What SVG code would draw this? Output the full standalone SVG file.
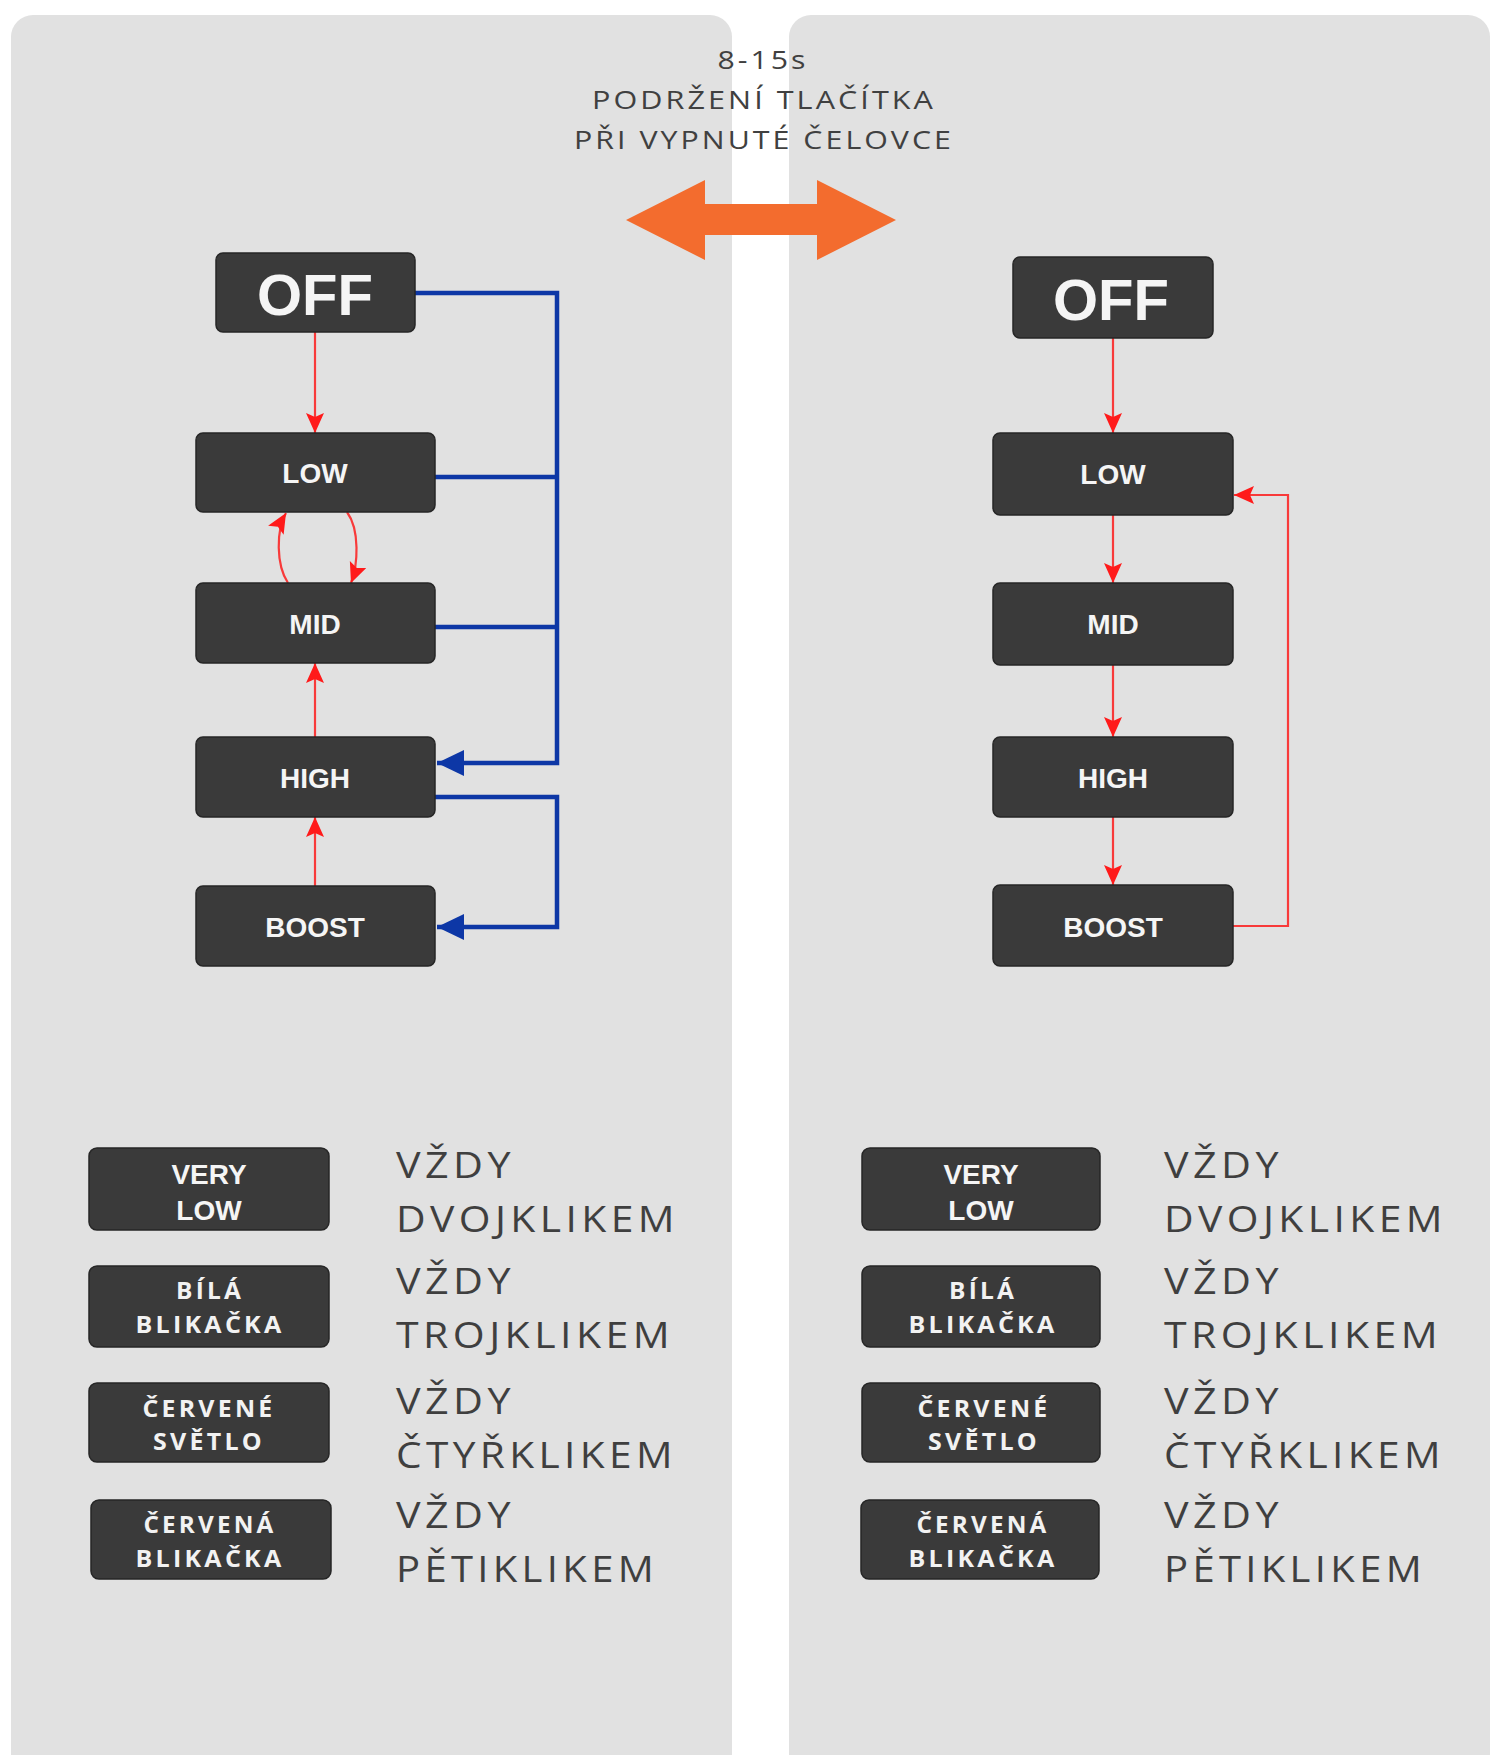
<svg xmlns="http://www.w3.org/2000/svg" width="1499" height="1755" viewBox="0 0 1499 1755">
<defs>
<style>
.panel{fill:#e1e1e1}
.node{fill:#3a3a3a;stroke:#262626;stroke-width:1.5}
.lbl{font-family:"Liberation Sans",Arial,sans-serif;font-weight:bold;fill:#f5f5f5;text-anchor:middle}
.lbl2{font-family:"Open Sans","Noto Sans",sans-serif;font-weight:bold;fill:#f2f2f2;text-anchor:middle;font-size:23px;letter-spacing:3px}
.hdr{font-family:"Open Sans","Noto Sans",sans-serif;fill:#404040;font-size:25px;text-anchor:middle;letter-spacing:2.5px}
.leg{font-family:"Open Sans","Noto Sans",sans-serif;fill:#3f3f3f;font-size:37px;letter-spacing:4px}
.red{fill:none;stroke:#f83a3a;stroke-width:2.2}
.blue{fill:none;stroke:#0d37a6;stroke-width:4.5}
</style>
<marker id="ar" markerUnits="userSpaceOnUse" markerWidth="22" markerHeight="20" refX="20" refY="9" orient="auto" viewBox="0 0 22 20">
<path d="M0,0 L20,9 L0,18 L4,9 Z" fill="#ff1a1a"/>
</marker>
<marker id="ab" markerUnits="userSpaceOnUse" markerWidth="28" markerHeight="28" refX="27" refY="13" orient="auto" viewBox="0 0 28 28">
<path d="M0,0 L27,13 L0,26 Z" fill="#0d37a6"/>
</marker>
</defs>
<rect width="1499" height="1755" fill="#ffffff"/>
<rect class="panel" x="11" y="15" width="721" height="1760" rx="22"/>
<rect class="panel" x="789" y="15" width="701" height="1760" rx="22"/>

<g id="header">
<text class="hdr" x="763" y="69" textLength="91" lengthAdjust="spacingAndGlyphs">8-15s</text>
<text class="hdr" x="764" y="109" textLength="344" lengthAdjust="spacingAndGlyphs">PODRŽENÍ TLAČÍTKA</text>
<text class="hdr" x="764" y="149" textLength="380" lengthAdjust="spacingAndGlyphs">PŘI VYPNUTÉ ČELOVCE</text>
</g>
<g id="switch-arrow">
<polygon points="626,220 705,180 705,204 817,204 817,180 896,220 817,260 817,235 705,235 705,260" fill="#f36c2e"/>
</g>

<g id="connectors">
<path class="blue" d="M415,293 H557 V763 H437" marker-end="url(#ab)"/>
<path class="blue" d="M435,477 H557"/>
<path class="blue" d="M435,627 H557"/>
<path class="blue" d="M435,797 H557 V927 H437" marker-end="url(#ab)"/>
<path class="red" d="M315,332 V433" marker-end="url(#ar)"/>
<path class="red" d="M288,583 C276,565 276,530 286,513" marker-end="url(#ar)"/>
<path class="red" d="M347,512 C360,530 358,565 351,583" marker-end="url(#ar)"/>
<path class="red" d="M315,737 V663" marker-end="url(#ar)"/>
<path class="red" d="M315,886 V817" marker-end="url(#ar)"/>
<path class="red" d="M1113,338 V433" marker-end="url(#ar)"/>
<path class="red" d="M1113,515 V583" marker-end="url(#ar)"/>
<path class="red" d="M1113,665 V737" marker-end="url(#ar)"/>
<path class="red" d="M1113,817 V885" marker-end="url(#ar)"/>
<path class="red" d="M1233,926 H1288 V495 H1234" marker-end="url(#ar)"/>
</g>

<g id="L-off"><rect class="node" x="216" y="253" width="199" height="79" rx="7"/><text class="lbl" x="315" y="315" font-size="58">OFF</text></g>
<g id="L-low"><rect class="node" x="196" y="433" width="239" height="79" rx="7"/><text class="lbl" x="315" y="483" font-size="28">LOW</text></g>
<g id="L-mid"><rect class="node" x="196" y="583" width="239" height="80" rx="7"/><text class="lbl" x="315" y="634" font-size="28">MID</text></g>
<g id="L-high"><rect class="node" x="196" y="737" width="239" height="80" rx="7"/><text class="lbl" x="315" y="788" font-size="28">HIGH</text></g>
<g id="L-boost"><rect class="node" x="196" y="886" width="239" height="80" rx="7"/><text class="lbl" x="315" y="937" font-size="28">BOOST</text></g>

<g id="R-off"><rect class="node" x="1013" y="257" width="200" height="81" rx="7"/><text class="lbl" x="1111" y="320" font-size="58">OFF</text></g>
<g id="R-low"><rect class="node" x="993" y="433" width="240" height="82" rx="7"/><text class="lbl" x="1113" y="484" font-size="28">LOW</text></g>
<g id="R-mid"><rect class="node" x="993" y="583" width="240" height="82" rx="7"/><text class="lbl" x="1113" y="634" font-size="28">MID</text></g>
<g id="R-high"><rect class="node" x="993" y="737" width="240" height="80" rx="7"/><text class="lbl" x="1113" y="788" font-size="28">HIGH</text></g>
<g id="R-boost"><rect class="node" x="993" y="885" width="240" height="81" rx="7"/><text class="lbl" x="1113" y="937" font-size="28">BOOST</text></g>

<g id="L-leg1"><rect class="node" x="89" y="1148" width="240" height="82" rx="8"/><text class="lbl" x="209" y="1184" font-size="28">VERY</text><text class="lbl" x="209" y="1220" font-size="28">LOW</text></g>
<g id="L-leg2"><rect class="node" x="89" y="1266" width="240" height="81" rx="8"/><text class="lbl2" x="210" y="1299" textLength="68" lengthAdjust="spacingAndGlyphs">BÍLÁ</text><text class="lbl2" x="210" y="1333" textLength="149" lengthAdjust="spacingAndGlyphs">BLIKAČKA</text></g>
<g id="L-leg3"><rect class="node" x="89" y="1383" width="240" height="79" rx="8"/><text class="lbl2" x="209" y="1417" textLength="133" lengthAdjust="spacingAndGlyphs">ČERVENÉ</text><text class="lbl2" x="209" y="1450" textLength="112" lengthAdjust="spacingAndGlyphs">SVĚTLO</text></g>
<g id="L-leg4"><rect class="node" x="91" y="1500" width="240" height="79" rx="8"/><text class="lbl2" x="210" y="1533" textLength="133" lengthAdjust="spacingAndGlyphs">ČERVENÁ</text><text class="lbl2" x="210" y="1567" textLength="149" lengthAdjust="spacingAndGlyphs">BLIKAČKA</text></g>

<g id="R-leg1"><rect class="node" x="862" y="1148" width="238" height="82" rx="8"/><text class="lbl" x="981" y="1184" font-size="28">VERY</text><text class="lbl" x="981" y="1220" font-size="28">LOW</text></g>
<g id="R-leg2"><rect class="node" x="862" y="1266" width="238" height="81" rx="8"/><text class="lbl2" x="983" y="1299" textLength="68" lengthAdjust="spacingAndGlyphs">BÍLÁ</text><text class="lbl2" x="983" y="1333" textLength="149" lengthAdjust="spacingAndGlyphs">BLIKAČKA</text></g>
<g id="R-leg3"><rect class="node" x="862" y="1383" width="238" height="79" rx="8"/><text class="lbl2" x="984" y="1417" textLength="133" lengthAdjust="spacingAndGlyphs">ČERVENÉ</text><text class="lbl2" x="984" y="1450" textLength="112" lengthAdjust="spacingAndGlyphs">SVĚTLO</text></g>
<g id="R-leg4"><rect class="node" x="861" y="1500" width="238" height="79" rx="8"/><text class="lbl2" x="983" y="1533" textLength="133" lengthAdjust="spacingAndGlyphs">ČERVENÁ</text><text class="lbl2" x="983" y="1567" textLength="149" lengthAdjust="spacingAndGlyphs">BLIKAČKA</text></g>

<g id="L-legtext">
<text class="leg" x="396" y="1178" textLength="119" lengthAdjust="spacingAndGlyphs">VŽDY</text>
<text class="leg" x="396" y="1232" textLength="283" lengthAdjust="spacingAndGlyphs">DVOJKLIKEM</text>
<text class="leg" x="396" y="1294" textLength="119" lengthAdjust="spacingAndGlyphs">VŽDY</text>
<text class="leg" x="396" y="1348" textLength="278" lengthAdjust="spacingAndGlyphs">TROJKLIKEM</text>
<text class="leg" x="396" y="1414" textLength="119" lengthAdjust="spacingAndGlyphs">VŽDY</text>
<text class="leg" x="396" y="1468" textLength="281" lengthAdjust="spacingAndGlyphs">ČTYŘKLIKEM</text>
<text class="leg" x="396" y="1528" textLength="119" lengthAdjust="spacingAndGlyphs">VŽDY</text>
<text class="leg" x="396" y="1582" textLength="262" lengthAdjust="spacingAndGlyphs">PĚTIKLIKEM</text>
</g>
<g id="R-legtext">
<text class="leg" x="1164" y="1178" textLength="119" lengthAdjust="spacingAndGlyphs">VŽDY</text>
<text class="leg" x="1164" y="1232" textLength="283" lengthAdjust="spacingAndGlyphs">DVOJKLIKEM</text>
<text class="leg" x="1164" y="1294" textLength="119" lengthAdjust="spacingAndGlyphs">VŽDY</text>
<text class="leg" x="1164" y="1348" textLength="278" lengthAdjust="spacingAndGlyphs">TROJKLIKEM</text>
<text class="leg" x="1164" y="1414" textLength="119" lengthAdjust="spacingAndGlyphs">VŽDY</text>
<text class="leg" x="1164" y="1468" textLength="281" lengthAdjust="spacingAndGlyphs">ČTYŘKLIKEM</text>
<text class="leg" x="1164" y="1528" textLength="119" lengthAdjust="spacingAndGlyphs">VŽDY</text>
<text class="leg" x="1164" y="1582" textLength="262" lengthAdjust="spacingAndGlyphs">PĚTIKLIKEM</text>
</g>
</svg>
